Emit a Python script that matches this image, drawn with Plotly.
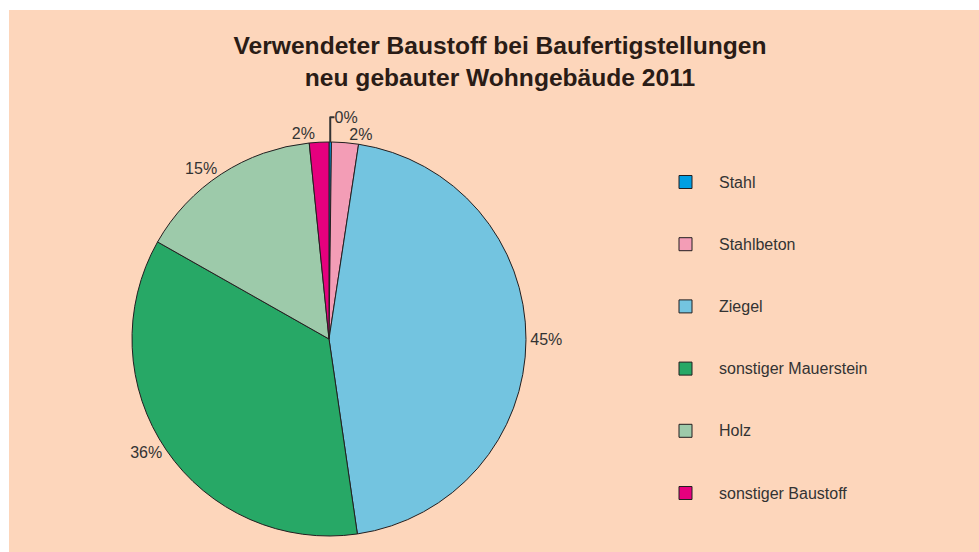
import plotly.graph_objects as go

W, H = 979, 552

labels = ["Stahl", "Stahlbeton", "Ziegel", "sonstiger Mauerstein", "Holz", "sonstiger Baustoff"]
values = [0.2, 2.2, 45.3, 35.5, 15.2, 1.6]
colors = ["#009FE3", "#F39DB6", "#73C4E0", "#27A866", "#9DCAAA", "#E6007E"]

BG = "#FDD6BB"
TXT = "#333333"
FONT = "Liberation Sans, Arial"

fig = go.Figure(go.Pie(
    labels=labels, values=values,
    marker=dict(colors=colors, line=dict(color="#231F20", width=1)),
    sort=False, direction="clockwise", rotation=0,
    textposition="outside", texttemplate="%{percent:.0%}",
    textfont=dict(family=FONT, size=16, color=TXT),
    domain=dict(x=[132 / W, 526 / W], y=[1 - 536 / H, 1 - 142 / H]),
    showlegend=False, hoverinfo="label+percent",
))

# peach background panel
fig.add_shape(type="rect", xref="paper", yref="paper", x0=9 / W, x1=1, y0=0, y1=1 - 10 / H,
              fillcolor=BG, line=dict(width=0), layer="below")

# legend drawn by hand (wide spacing like the original)
for i, (lab, col) in enumerate(zip(labels, colors)):
    yc = 182 + i * 62.2
    fig.add_shape(type="rect", xref="paper", yref="paper",
                  x0=679 / W, x1=692 / W, y0=1 - (yc + 6.5) / H, y1=1 - (yc - 6.5) / H,
                  fillcolor=col, line=dict(color="#231F20", width=1))
    fig.add_annotation(x=717 / W, y=1 - yc / H, xref="paper", yref="paper",
                       text=lab, showarrow=False, xanchor="left", yanchor="middle",
                       font=dict(family=FONT, size=16, color=TXT))

fig.update_layout(
    width=W, height=H,
    paper_bgcolor="#FFFFFF", plot_bgcolor="#FFFFFF",
    margin=dict(l=0, r=0, t=0, b=0),
    title=dict(text="<b>Verwendeter Baustoff bei Baufertigstellungen<br>neu gebauter Wohngebäude 2011</b>",
               x=500 / W, xanchor="center", y=1 - 54 / H, yanchor="top",
               font=dict(family=FONT, size=24.6, color="#2A1C16")),
)

# page without body margin / scrollbars so the figure fills the window exactly
fig.write_html("out.html", config={"displayModeBar": False},
               post_script="document.body.style.margin='0';document.body.style.overflow='hidden';")
